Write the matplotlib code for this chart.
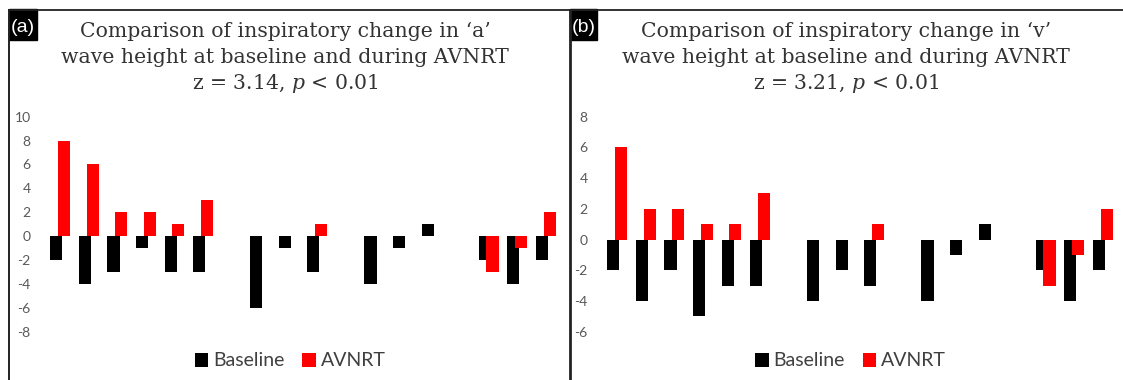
import numpy as np
import matplotlib.pyplot as plt
from matplotlib.lines import Line2D
from matplotlib.patches import Rectangle

# --- DATA ---
# 18 patients, three empty slots as in the original chart
categories = list(range(18))

a_baseline = [-2, -4, -3, -1, -3, -3, 0, -6, -1, -3, 0, -4, -1, 1, 0, -2, -4, -2]
a_avnrt = [8, 6, 2, 2, 1, 3, 0, 0, 0, 1, 0, 0, 0, 0, 0, -3, -1, 2]

v_baseline = [-2, -4, -2, -5, -3, -3, 0, -4, -2, -3, 0, -4, -1, 1, 0, -2, -4, -2]
v_avnrt = [6, 2, 2, 1, 1, 3, 0, 0, 0, 1, 0, 0, 0, 0, 0, -3, -1, 2]

a_ticks = [10, 8, 6, 4, 2, 0, -2, -4, -6, -8]
v_ticks = [8, 6, 4, 2, 0, -2, -4, -6]

titles = [
    ["Comparison of inspiratory change in \u2018a\u2019",
     "wave height at baseline and during AVNRT",
     "z = 3.14, $\\mathit{p}$ < 0.01"],
    ["Comparison of inspiratory change in \u2018v\u2019",
     "wave height at baseline and during AVNRT",
     "z = 3.21, $\\mathit{p}$ < 0.01"],
]
panel_labels = ["(a)", "(b)"]

plt.rcParams['mathtext.fontset'] = 'custom'
plt.rcParams['mathtext.rm'] = 'DejaVu Serif'
plt.rcParams['mathtext.it'] = 'DejaVu Serif:italic'

W, H = 1123, 380
fig = plt.figure(figsize=(W / 100, H / 100), dpi=100)

def fx(px):
    return px / W

def fy(py):
    return 1 - py / H

x = np.arange(len(categories))
bar_w = 0.425
shift = 0.1375
title_color = '#333333'

panels = [
    (a_baseline, a_avnrt, a_ticks, 46, 9, 285),
    (v_baseline, v_avnrt, v_ticks, 603, 569.5, 846),
]

for i, (base, avnrt, ticks, left_px, frame_px, title_px) in enumerate(panels):
    ax = fig.add_axes([fx(left_px), fy(331.7), 514 / W, 215 / H])
    b1 = ax.bar(x - shift, base, width=bar_w, color='black', linewidth=0, label='Baseline')
    b2 = ax.bar(x + shift, avnrt, width=bar_w, color='#ff0000', linewidth=0, label='AVNRT')
    ax.set_xlim(-0.5, len(categories) - 0.5)
    ax.set_ylim(min(ticks), max(ticks))
    ax.set_yticks(ticks)
    ax.set_yticklabels([str(t) for t in ticks], family='Lato', fontsize=10, color='#595959')
    ax.tick_params(axis='y', length=0, pad=11)
    ax.set_xticks([])
    for s in ax.spines.values():
        s.set_visible(False)

    # legend under the plot
    ax.legend(handles=[b1, b2], loc='center', bbox_to_anchor=(fx(frame_px + 281), fy(361)),
              bbox_transform=fig.transFigure, ncol=2, frameon=False,
              prop={'family': 'Lato', 'size': 14}, handlelength=0.7, handleheight=0.7,
              handletextpad=0.25, columnspacing=0.9, labelcolor='#404040')

    # title block, one text per line
    for line, base_y in zip(titles[i], [37, 63, 89]):
        fig.text(fx(title_px), fy(base_y), line, ha='center', va='baseline',
                 family='DejaVu Serif', fontsize=14.7, color=title_color)

    # panel frame (left edge) and black label box
    fig.add_artist(Line2D([fx(frame_px), fx(frame_px)], [fy(9.5), 0], color='#222222',
                          lw=1.4 if i == 0 else 2.0))
    fig.add_artist(Rectangle((fx(frame_px), fy(40)), 27.5 / W, 31 / H, color='black',
                             transform=fig.transFigure))
    fig.text(fx(frame_px + 14), fy(28), panel_labels[i], ha='center', va='center',
             family='Liberation Sans', fontsize=14, color='white')

# top border of both panels
fig.add_artist(Line2D([fx(8.5), 1], [fy(9.5), fy(9.5)], color='#222222', lw=1.3))

plt.savefig('out.png', dpi=100)
